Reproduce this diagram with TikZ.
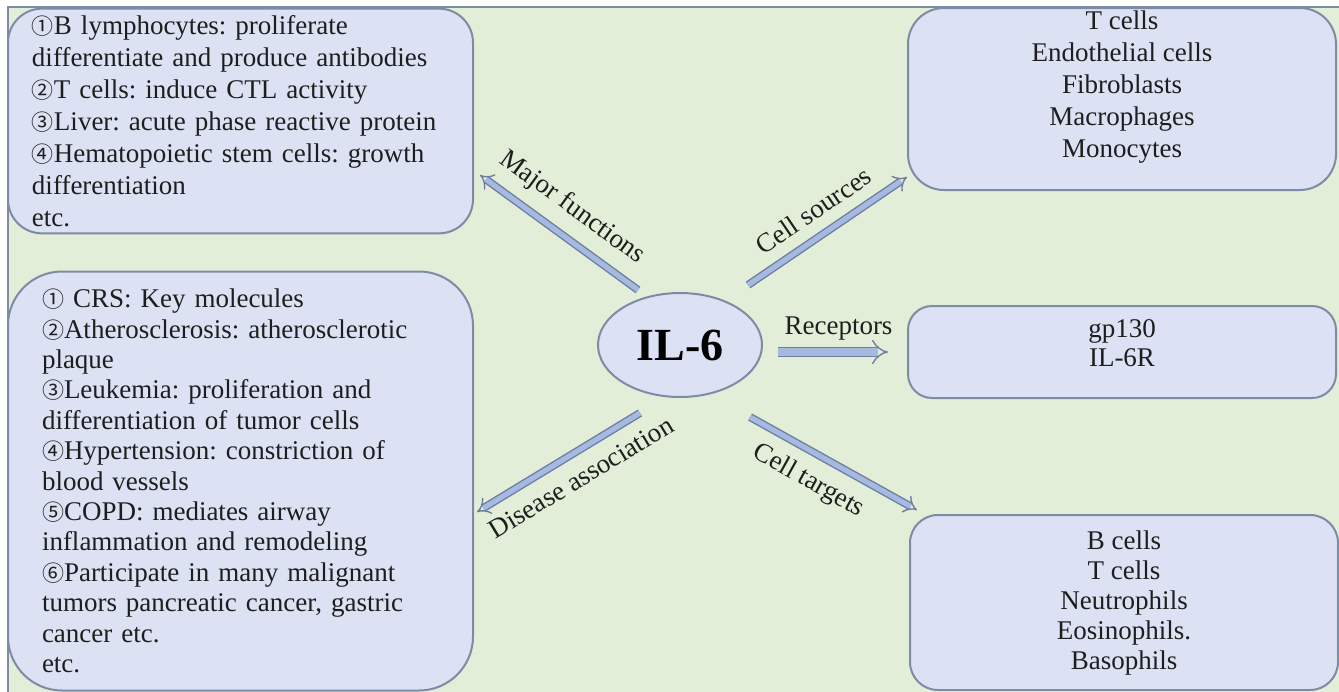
\documentclass[tikz,border=0pt]{standalone}
\usepackage{fontspec}
\setmainfont{Liberation Serif}
\newfontfamily\circfont{Noto Sans CJK SC}
\usetikzlibrary{shapes.geometric,arrows.meta}
\definecolor{pagegreen}{HTML}{E3EED8}
\definecolor{boxfill}{HTML}{DCE2F3}
\definecolor{boxline}{HTML}{7D8CA5}
\definecolor{arrowfill}{HTML}{A5B9E1}
\definecolor{arrowline}{HTML}{6E7DA0}
\definecolor{inktext}{HTML}{1E1E1E}
\newcommand{\cn}[1]{{\circfont\fontsize{11}{11}\selectfont #1}}
\frenchspacing
\tikzset{
	infobox/.style={draw=boxline, fill=boxfill, line width=1pt, text=inktext},
	flow/.style={draw=arrowline, line width=0.7pt, double=arrowfill, double distance=2.6pt, -{Implies}},
	tag/.style={sloped, text=inktext, font=\fontsize{13.5}{16}\selectfont}
}
\begin{document}
\begin{tikzpicture}[x=0.5pt, y=-0.5pt]
	\useasboundingbox (0,0) rectangle (1339,691);
	\fill[white] (0,0) rectangle (1339,691);
	\draw[boxline, fill=pagegreen, line width=0.6pt] (8,7) rectangle (1342,694);

	\node[infobox, rounded corners=17pt, minimum width=232.5pt, minimum height=112pt, text width=208.5pt, inner xsep=12pt, align=left, font=\fontsize{13.5}{16}\selectfont] (funcs) at (240.5,121) {\cn{①}B lymphocytes: proliferate\\differentiate and produce antibodies\\\cn{②}T cells: induce CTL activity\\\cn{③}Liver: acute phase reactive protein\\\cn{④}Hematopoietic stem cells: growth\\differentiation\\etc.};
	\node[infobox, rounded corners=27pt, minimum width=232.5pt, minimum height=209.5pt, text width=198.5pt, inner xsep=17pt, align=left, font=\fontsize{13.5}{15.2}\selectfont] (disease) at (240.5,481) {\cn{①} CRS: Key molecules\\\cn{②}Atherosclerosis: atherosclerotic\\plaque\\\cn{③}Leukemia: proliferation and\\differentiation of tumor cells\\\cn{④}Hypertension: constriction of\\blood vessels\\\cn{⑤}COPD: mediates airway\\inflammation and remodeling\\\cn{⑥}Participate in many malignant\\tumors pancreatic cancer, gastric\\cancer etc.\\etc.};

	\node[infobox, rounded corners=18pt, minimum width=214pt, minimum height=91pt, inner ysep=1pt, text depth=15pt, align=center, font=\fontsize{13.5}{16}\selectfont] (sources) at (1122,99) {T cells\\Endothelial cells\\Fibroblasts\\Macrophages\\Monocytes};
	\node[infobox, rounded corners=12pt, minimum width=214pt, minimum height=46pt, text depth=9pt, align=center, font=\fontsize{13.5}{14.5}\selectfont] (recep) at (1122,352) {gp130\\IL-6R};
	\node[infobox, rounded corners=14pt, minimum width=214pt, minimum height=87.5pt, align=center, font=\fontsize{13.5}{15}\selectfont] (targets) at (1124,602.5) {B cells\\T cells\\Neutrophils\\Eosinophils.\\Basophils};

	\node[infobox, ellipse, minimum width=82pt, minimum height=52pt, text=black, font=\bfseries\fontsize{23}{23}\selectfont] (il6) at (680,345) {IL-6};

	\coordinate (mf-a) at (638,290);
	\coordinate (mf-b) at (480,175);
	\coordinate (cs-a) at (748,285);
	\coordinate (cs-b) at (907,177);
	\coordinate (rc-a) at (778,352);
	\coordinate (rc-b) at (888,352);
	\coordinate (da-a) at (640,413);
	\coordinate (da-b) at (477,512);
	\coordinate (ct-a) at (750,417);
	\coordinate (ct-b) at (917,510);

	\draw[flow] (mf-a) -- node[tag, above=4pt, pos=0.52] {Major functions} (mf-b);
	\draw[flow] (cs-a) -- node[tag, above=4pt, pos=0.5] {Cell sources} (cs-b);
	\draw[flow, double distance=3.6pt] (rc-a) -- node[tag, above=2pt, pos=0.55] {Receptors} (rc-b);
	\draw[flow] (da-a) -- node[tag, below=4pt, pos=0.44] {Disease association} (da-b);
	\draw[flow] (ct-a) -- node[tag, below=4pt, pos=0.43] {Cell targets} (ct-b);
\end{tikzpicture}
\end{document}
